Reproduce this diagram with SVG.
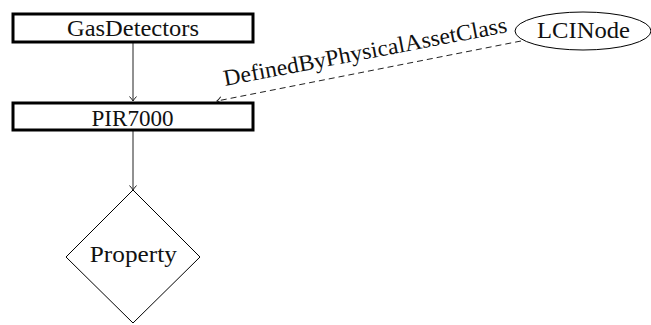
<svg xmlns="http://www.w3.org/2000/svg" width="651" height="325" viewBox="0 0 651 325">
  <style>
    .lbl { font-family: "Liberation Serif", "DejaVu Serif", serif; font-size: 23px; fill: #111; text-anchor: middle; }
    .box { fill: #fff; stroke: #000; stroke-width: 3; }
    .shape { fill: #fff; stroke: #000; stroke-width: 1; }
    .edge { fill: none; stroke: #222; stroke-width: 1; }
    .dash { stroke-dasharray: 6 4; }
  </style>
  <defs>
    <marker id="to" viewBox="-6 -5 8 10" markerWidth="8" markerHeight="10" refX="0" refY="0" orient="auto" markerUnits="userSpaceOnUse">
      <path d="M -4.5 -3.5 Q -1.5 -0.8 0 0 Q -1.5 0.8 -4.5 3.5" fill="none" stroke="#222" stroke-width="1"/>
    </marker>
  </defs>

  <g id="connectors">
    <line class="edge" x1="133" y1="43" x2="133" y2="101" marker-end="url(#to)"/>
    <line class="edge" x1="133" y1="131" x2="133" y2="190" marker-end="url(#to)"/>
    <line class="edge dash" x1="521" y1="41" x2="217" y2="101" marker-end="url(#to)"/>
    <text class="lbl" transform="translate(366.5 59) rotate(-10.8)" textLength="288" lengthAdjust="spacingAndGlyphs">DefinedByPhysicalAssetClass</text>
  </g>

  <g id="GasDetectors">
    <rect class="box" x="13" y="14" width="240" height="28"/>
    <text class="lbl" x="133" y="36" textLength="132" lengthAdjust="spacingAndGlyphs">GasDetectors</text>
  </g>

  <g id="PIR7000">
    <rect class="box" x="13" y="103" width="240" height="27"/>
    <text class="lbl" x="132.5" y="126" textLength="82" lengthAdjust="spacingAndGlyphs">PIR7000</text>
  </g>

  <g id="Property">
    <polygon class="shape" points="133,190 200,257 133,323 66,257"/>
    <text class="lbl" x="133.3" y="262" textLength="87" lengthAdjust="spacingAndGlyphs">Property</text>
  </g>

  <g id="LCINode">
    <ellipse class="shape" cx="583" cy="31" rx="68" ry="19"/>
    <text class="lbl" x="583.5" y="37.5" textLength="93" lengthAdjust="spacingAndGlyphs">LCINode</text>
  </g>
</svg>
